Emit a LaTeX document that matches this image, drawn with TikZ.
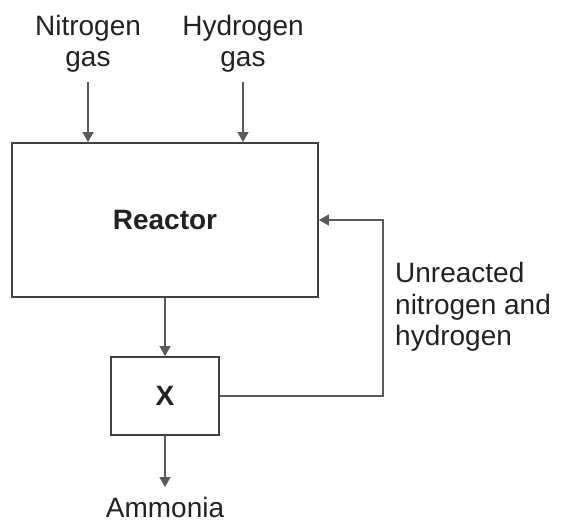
\documentclass[tikz,border=0pt]{standalone}
\usepackage{fontspec}
\setmainfont{Liberation Sans}
\usetikzlibrary{arrows.meta}
\definecolor{boxline}{HTML}{404040}
\definecolor{flowline}{HTML}{5A5A5A}
\definecolor{txt}{HTML}{222222}
\begin{document}
\begin{tikzpicture}[x=1pt,y=-1pt,
  box/.style={draw=boxline, line width=1.8pt, inner sep=0pt, text=txt,
    font=\fontsize{28}{32}\selectfont\bfseries},
  lbl/.style={inner sep=0pt, text=txt, font=\fontsize{28}{31.5}\selectfont},
  flow/.style={draw=flowline, line width=1.4pt},
  arr/.style={flow, -{Triangle[length=10pt,width=11pt]}}]
\useasboundingbox (0,0) rectangle (561,523);
\node[box, minimum width=306pt, minimum height=154pt] (reactor) at (165,220) {Reactor};
\node[box, minimum width=108pt, minimum height=78pt] (xbox) at (165,396) {X};
\node[lbl, align=center, anchor=north] (nit) at (88,15) {Nitrogen\\gas};
\node[lbl, align=center, anchor=north] (hyd) at (243,15) {Hydrogen\\gas};
\node[lbl, align=left, anchor=north west] (unr) at (395,262) {Unreacted\\nitrogen and\\hydrogen};
\node[lbl, anchor=north] (amm) at (165,497) {Ammonia};
\coordinate (fb) at (383,396);
\draw[arr] ([yshift=-9pt]nit.south) -- (nit.south |- reactor.north);
\draw[arr] ([yshift=-9pt]hyd.south) -- (hyd.south |- reactor.north);
\draw[arr] (reactor.south -| xbox.north) -- (xbox.north);
\draw[arr] (xbox.south) -- ([yshift=10pt]amm.north);
\draw[arr] (xbox.east) -- (fb) |- (reactor.east);
\end{tikzpicture}
\end{document}
